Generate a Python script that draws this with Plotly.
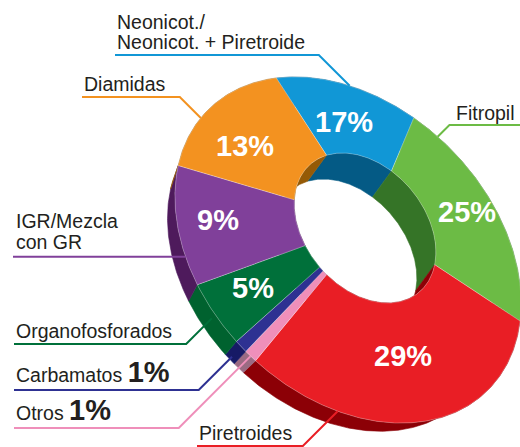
import numpy as np
import plotly.graph_objects as go

# ---------------------------------------------------------------- data
categories = ["Neonicot./ Neonicot. + Piretroide", "Fitropil", "Piretroides", "Otros",
              "Carbamatos", "Organofosforados", "IGR/Mezcla con GR", "Diamidas"]
shares = [17, 25, 29, 1, 1, 5, 9, 13]
label_lines = [["Neonicot./", "Neonicot. + Piretroide"], ["Fitropil"], ["Piretroides"], ["Otros"],
               ["Carbamatos"], ["Organofosforados"], ["IGR/Mezcla", "con GR"], ["Diamidas"]]

# --------------------------------------------------------------- style
top_colors = ["#1197d6", "#6cbb45", "#e91e25", "#ef8fba", "#2e3192", "#00703a", "#80409a", "#f39220"]
wall_colors = ["#045a85", "#357427", "#8c0006", "#9b6b83", "#161a66", "#00622f", "#4e1a5c", "#955a06"]
TEXT = "#231f20"
FONT = "Liberation Sans, Arial, Helvetica, sans-serif"

W, H = 520, 447

# ---------------------------------------------- tilted-ring projection
P0 = np.array([370.0, 222.0])                           # projected centre of the ring
OUTER = (np.array([348.0, 250.0]), 198.0, 144.0, 45.0)  # centre, semi-axes, rotation
INNER = (np.array([365.0, 228.0]), 84.0, 60.0, 50.0)
DEPTH = np.array([-17.6, 18.4])                         # offset of the lower face
SHRINK = 0.941                                          # lower face is slightly farther away
HOLE_DEPTH = np.array([-19.0, 26.0])                    # wall seen through the hole
THETA0, WARP = 236.94, 6.27                             # start direction, perspective warp


def view_angle(phi):
    phi = np.asarray(phi, float)
    return np.radians(phi + THETA0 - WARP * np.sin(np.radians(2 * phi)))


def rim(phi, ell):
    """Point where the ray from the centre at pie angle phi meets an ellipse."""
    c, a, b, rot = ell
    t = view_angle(phi)
    w = np.stack([np.cos(t), np.sin(t)], axis=-1)
    r = np.radians(rot)
    u = np.array([np.cos(r), np.sin(r)])
    v = np.array([-np.sin(r), np.cos(r)])
    q = P0 - c
    qu, qv = q @ u / a, q @ v / b
    wu, wv = w @ u / a, w @ v / b
    A = wu ** 2 + wv ** 2
    B = 2 * (qu * wu + qv * wv)
    C = qu ** 2 + qv ** 2 - 1
    s = (-B + np.sqrt(B ** 2 - 4 * A * C)) / (2 * A)
    return P0 + s[..., None] * w


def lower(pts):
    """Matching point on the bottom face of the ring (outer rim)."""
    c = OUTER[0]
    return c + DEPTH + SHRINK * (pts - c)


bounds = np.concatenate([[0], np.cumsum(shares)]) * 360.0 / sum(shares)


def poly_trace(pts, fill, line_color, line_width):
    pts = np.vstack([pts, pts[:1]])
    return go.Scatter(x=pts[:, 0], y=pts[:, 1], mode="lines", fill="toself",
                      fillcolor=fill, line=dict(color=line_color, width=line_width),
                      hoverinfo="skip", showlegend=False)


walls, inner_walls, tops = [], [], []
for i in range(len(shares)):
    a0, a1 = bounds[i], bounds[i + 1]
    phis = np.linspace(a0, a1, max(6, int((a1 - a0) * 2)))
    outer = rim(phis, OUTER)
    inner = rim(phis, INNER)
    walls.append(poly_trace(np.vstack([outer, lower(outer)[::-1]]),
                            wall_colors[i], wall_colors[i], 0.6))
    inner_walls.append(poly_trace(np.vstack([inner, (inner + HOLE_DEPTH)[::-1]]),
                                  wall_colors[i], wall_colors[i], 0.6))
    tops.append(poly_trace(np.vstack([outer, inner[::-1]]),
                           top_colors[i], "rgba(255,255,255,0.45)", 0.6))

fig = go.Figure(walls + inner_walls + tops)

# ------------------------------------------------------ value labels
pct_pos = {0: (344, 122), 1: (467, 212), 2: (403, 356), 5: (253, 288), 6: (218, 220), 7: (245, 146)}
annotations = []
for i, (x, y) in pct_pos.items():
    annotations.append(dict(x=x, y=y, xref="x", yref="y", text=f"<b>{shares[i]}%</b>",
                            showarrow=False, xanchor="center", yanchor="middle",
                            font=dict(family=FONT, size=29, color="white")))

# ------------------------------------------------ names and leaders
# slice, text x, first baseline, line gap, side, underline y, line start x, attach share, wall depth
leaders = [
    (0, 115, 29, 20, "left", 55, 115, 0.49, 0.0),
    (1, 517, 120, 0, "right", 125, 520, 0.15, 0.0),
    (2, 197, 440, 0, "left", 446, 197, 0.745, 0.0),
    (3, 14, 420, 0, "left", 428, 14, 0.5, 0.0),
    (4, 14, 382, 0, "left", 390, 14, 0.5, 0.8),
    (5, 14, 338, 0, "left", 344, 14, 0.51, 0.3),
    (6, 14, 228, 21, "left", None, 13, 0.24, 0.0),
    (7, 82, 91, 0, "left", 97, 82, 0.34, 0.0),
]

for i, tx, base, gap, side, ly, lx, f, depth in leaders:
    phi = bounds[i] + f * (bounds[i + 1] - bounds[i])
    top_pt = rim(np.array([phi]), OUTER)[0]
    end = top_pt + depth * (lower(top_pt) - top_pt)
    if ly is None:
        ly = end[1]
        xs, ys = [lx, end[0]], [ly, ly]
    else:
        dy = abs(end[1] - ly)
        ex = end[0] - dy if side == "left" else end[0] + dy
        xs, ys = [lx, ex, end[0]], [ly, ly, end[1]]
    fig.add_trace(go.Scatter(x=xs, y=ys, mode="lines", line=dict(color=top_colors[i], width=2),
                             hoverinfo="skip", showlegend=False))

    lines = label_lines[i]
    for k, txt in enumerate(lines):
        size_max = 19.5
        if shares[i] < 5 and k == len(lines) - 1:
            txt = f"{txt} <span style='font-size:29px'><b>{shares[i]}%</b></span>"
            size_max = 29
        annotations.append(dict(x=tx, y=base + k * gap - 0.3465 * size_max, xref="x", yref="y",
                                text=txt, showarrow=False, xanchor=side, yanchor="middle",
                                font=dict(family=FONT, size=19.5, color=TEXT)))

fig.update_layout(
    width=W, height=H, margin=dict(l=0, r=0, t=0, b=0),
    paper_bgcolor="white", plot_bgcolor="white", showlegend=False,
    xaxis=dict(range=[0, W], visible=False, fixedrange=True),
    yaxis=dict(range=[H, 0], visible=False, fixedrange=True),
    annotations=annotations,
)

fig.write_html("out.html")
